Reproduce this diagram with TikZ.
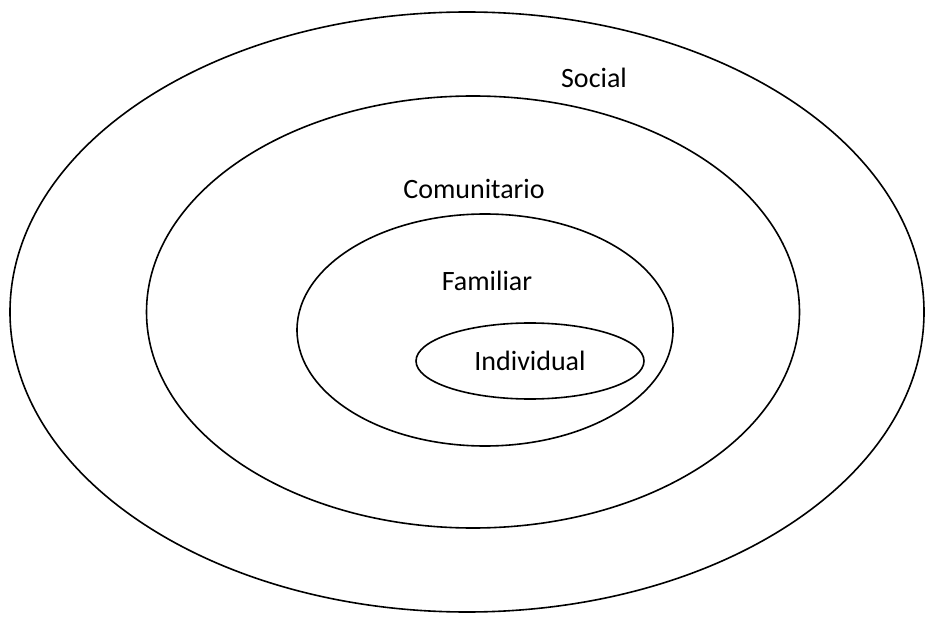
\documentclass[tikz,border=0pt]{standalone}
\usepackage{fontspec}
\setmainfont{Carlito}
\usetikzlibrary{shapes.geometric}
\usetikzlibrary{positioning}

\begin{document}
\begin{tikzpicture}[x=1pt,y=-1pt,
		level/.style={ellipse,draw=black,line width=1.6pt,inner sep=0pt},
		tag/.style={font=\fontsize{28}{33}\selectfont,inner sep=0pt}]
	\useasboundingbox (0,0) rectangle (928,617);

	% rings
	\node[level,minimum width=914,minimum height=600] (social) at (467,312) {};
	\node[level,minimum width=653,minimum height=432] (comunitario) at (473,312) {};
	\node[level,minimum width=376,minimum height=232] (familiar) at (485,330) {};
	\node[level,minimum width=228,minimum height=76] (individual) at (530,361) {};

	% labels
	\node[tag] (socialtxt) at (594,78) {Social};
	\node[tag] (comunitariotxt) at (474,189) {Comunitario};
	\node[tag] (familiartxt) at (487,281) {Familiar};
	\node[tag] at (individual.center) {Individual};

\end{tikzpicture}
\end{document}
